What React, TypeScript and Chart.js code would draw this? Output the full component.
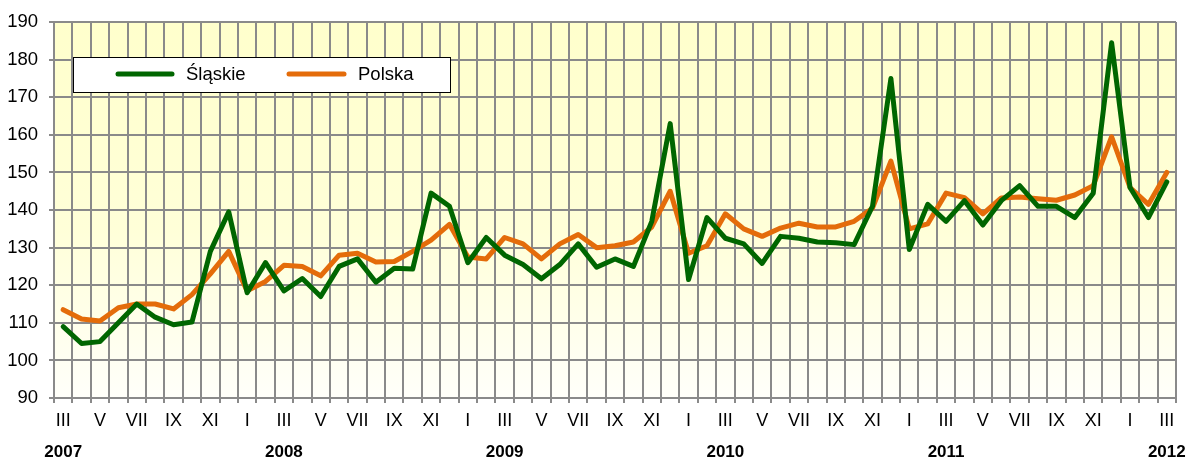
import { useEffect, useRef } from 'react';
import { Chart, registerables } from 'chart.js';

Chart.register(...registerables);

const monthLabels = [
  'III', 'IV', 'V', 'VI', 'VII', 'VIII', 'IX', 'X', 'XI', 'XII',
  'I', 'II', 'III', 'IV', 'V', 'VI', 'VII', 'VIII', 'IX', 'X', 'XI', 'XII',
  'I', 'II', 'III', 'IV', 'V', 'VI', 'VII', 'VIII', 'IX', 'X', 'XI', 'XII',
  'I', 'II', 'III', 'IV', 'V', 'VI', 'VII', 'VIII', 'IX', 'X', 'XI', 'XII',
  'I', 'II', 'III', 'IV', 'V', 'VI', 'VII', 'VIII', 'IX', 'X', 'XI', 'XII',
  'I', 'II', 'III',
];

const slaskie = [
  109, 104.5, 105, 110, 115, 111.5, 109.5, 110.2, 129, 139.5,
  118, 126, 118.5, 121.8, 117, 125, 127, 120.8, 124.5, 124.3, 144.5, 141,
  126, 132.7, 128, 125.5, 121.7, 125.5, 131, 124.8, 127, 125, 137, 163,
  121.5, 138, 132.5, 131, 125.8, 133, 132.5, 131.5, 131.3, 130.8, 141, 175,
  129.5, 141.5, 137, 142.5, 136, 142.5, 146.5, 141, 141, 138, 144.5, 184.5,
  146, 138, 147.5,
];

const polska = [
  113.5, 111, 110.5, 114, 115, 115, 113.7, 117.5, 123, 129,
  118.5, 121, 125.3, 125, 122.5, 128, 128.5, 126.2, 126.3, 129, 132, 136.2,
  127.5, 127, 132.7, 131, 127, 131, 133.5, 130, 130.5, 131.5, 135.5, 145,
  128.5, 130.5, 139, 135, 133, 135.2, 136.5, 135.5, 135.5, 137, 140.5, 153,
  135, 136.3, 144.5, 143.3, 139, 143.2, 143.5, 143, 142.6, 144, 146.5, 159.5,
  146, 141.5, 150,
];

const yearLabels = ['2007', '2008', '2009', '2010', '2011', '2012'];
const yearStartIndex = [0, 12, 24, 36, 48, 60];

const seriesNames = ['Śląskie', 'Polska'];

const FONT = '"Liberation Sans", Arial, sans-serif';
const GRID = '#8a8a8a';
const GREEN = '#006600';
const ORANGE = '#E46C0A';

export default function App() {
  const ref = useRef<HTMLCanvasElement>(null);

  useEffect(() => {
    if (!ref.current) return;

    const bgPlugin = {
      id: 'bgGradient',
      beforeDraw(chart: any) {
        const { ctx, chartArea: a } = chart;
        const g = ctx.createLinearGradient(0, a.top, 0, a.bottom);
        g.addColorStop(0, '#FFFFCC');
        g.addColorStop(0.55, '#FFFFD8');
        g.addColorStop(1, '#FFFFFA');
        ctx.save();
        ctx.fillStyle = g;
        ctx.fillRect(a.left, a.top, a.right - a.left, a.bottom - a.top);
        ctx.restore();
      },
    };

    const yearsPlugin = {
      id: 'yearLabels',
      afterDraw(chart: any) {
        const { ctx } = chart;
        const xs = chart.scales.x;
        ctx.save();
        ctx.font = `bold 17px ${FONT}`;
        ctx.fillStyle = '#000';
        ctx.textAlign = 'center';
        ctx.textBaseline = 'middle';
        yearLabels.forEach((lab, k) => {
          ctx.fillText(lab, xs.getPixelForValue(yearStartIndex[k]), 452.5);
        });
        ctx.restore();
      },
    };

    const legendPlugin = {
      id: 'boxLegend',
      afterDraw(chart: any) {
        const { ctx } = chart;
        ctx.save();
        ctx.fillStyle = '#ffffff';
        ctx.fillRect(73.5, 57.5, 377, 35);
        ctx.strokeStyle = '#000000';
        ctx.lineWidth = 1;
        ctx.strokeRect(73.5, 57.5, 377, 35);
        const items = [
          { x1: 118, x2: 172, tx: 186 },
          { x1: 289, x2: 344, tx: 358 },
        ];
        chart.data.datasets.forEach((ds: any, i: number) => {
          const it = items[i];
          ctx.strokeStyle = ds.borderColor;
          ctx.lineWidth = 5;
          ctx.lineCap = 'round';
          ctx.beginPath();
          ctx.moveTo(it.x1, 74);
          ctx.lineTo(it.x2, 74);
          ctx.stroke();
          ctx.fillStyle = '#000';
          ctx.font = `18.5px ${FONT}`;
          ctx.textAlign = 'left';
          ctx.textBaseline = 'middle';
          ctx.fillText(ds.label, it.tx, 75);
        });
        ctx.restore();
      },
    };

    const chart = new Chart(ref.current, {
      type: 'line',
      data: {
        labels: monthLabels,
        datasets: [
          {
            label: seriesNames[0],
            data: slaskie,
            borderColor: GREEN,
            backgroundColor: GREEN,
            borderWidth: 5,
            pointRadius: 0,
            tension: 0,
            borderJoinStyle: 'round',
            borderCapStyle: 'round',
          },
          {
            label: seriesNames[1],
            data: polska,
            borderColor: ORANGE,
            backgroundColor: ORANGE,
            borderWidth: 5,
            pointRadius: 0,
            tension: 0,
            borderJoinStyle: 'round',
            borderCapStyle: 'round',
          },
        ],
      },
      options: {
        responsive: false,
        animation: false,
        layout: { padding: { top: 20, right: 14, left: 0, bottom: 0 } },
        plugins: {
          legend: { display: false },
          tooltip: { enabled: false },
        },
        scales: {
          x: {
            type: 'category',
            offset: true,
            grid: {
              offset: true,
              color: GRID,
              lineWidth: 2,
              tickLength: 5,
              drawTicks: true,
            },
            border: { color: GRID, width: 2 },
            ticks: {
              autoSkip: false,
              maxRotation: 0,
              minRotation: 0,
              padding: 7,
              color: '#000',
              font: { family: FONT, size: 18 },
              callback: (_v: any, i: number) => (i % 2 === 0 ? monthLabels[i] : ''),
            },
            afterFit: (s: any) => {
              s.height = 63;
            },
          },
          y: {
            min: 90,
            max: 190,
            grid: {
              color: GRID,
              lineWidth: 2,
              tickLength: 5,
              drawTicks: true,
            },
            border: { color: GRID, width: 2 },
            ticks: {
              stepSize: 10,
              padding: 11,
              color: '#000',
              font: { family: FONT, size: 18.5 },
            },
            afterFit: (s: any) => {
              s.width = 54;
            },
          },
        },
      },
      plugins: [bgPlugin, yearsPlugin, legendPlugin],
    });

    return () => chart.destroy();
  }, []);

  return (
    <div style={{ position: 'fixed', left: 0, top: 0, width: 1190, height: 461, background: '#fff' }}>
      <canvas ref={ref} width={1190} height={461} style={{ display: 'block' }} />
    </div>
  );
}
